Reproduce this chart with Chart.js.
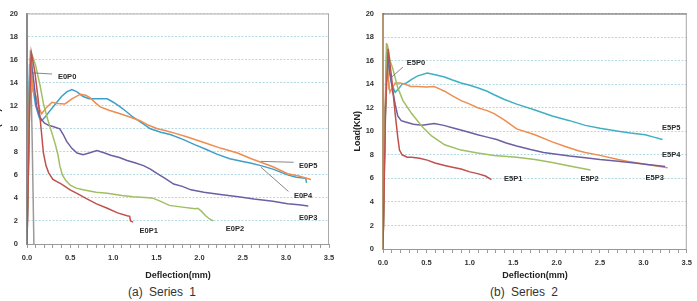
<!DOCTYPE html>
<html>
<head>
<meta charset="utf-8">
<script src="https://cdn.jsdelivr.net/npm/chart.js@4.4.1/dist/chart.umd.min.js"></script>
<style>
body { margin:0; width:697px; height:301px; overflow:hidden; background:#fff; position:relative; font-family:"Liberation Sans", Arial, sans-serif; }
.box { position:absolute; top:0; height:284px; }
.cap { position:absolute; top:285px; font-size:12px; color:#333; word-spacing:3px; transform:translateX(-50%); white-space:nowrap; }
</style>
</head>
<body>
<div class="box" style="left:-10px;width:350px"><canvas id="c1"></canvas></div>
<div class="box" style="left:345px;width:352px"><canvas id="c2"></canvas></div>
<div class="cap" style="left:162px">(a) Series 1</div>
<div class="cap" style="left:524px">(b) Series 2</div>
<script>
// Series 1 - deflection (mm) / load (kN)
const e0p0X = [0, 0.02, 0.04, 0.06, 0.08];
const e0p0Y = [0, 12, 16.8, 9, 0];
const e0p1X = [0, 0.03, 0.05, 0.09, 0.13, 0.17, 0.19, 0.22, 0.25, 0.3, 0.4, 0.5, 0.6, 0.7, 0.8, 0.93, 1.05, 1.16, 1.19, 1.2, 1.23];
const e0p1Y = [0, 12, 16.6, 15, 12.5, 9.5, 7.9, 6.8, 6.2, 5.6, 5.2, 4.7, 4.3, 3.9, 3.5, 3.1, 2.7, 2.45, 2.4, 2.0, 1.9];
const e0p2X = [0, 0.03, 0.06, 0.1, 0.15, 0.19, 0.24, 0.29, 0.33, 0.36, 0.38, 0.41, 0.45, 0.5, 0.57, 0.65, 0.8, 0.93, 1.1, 1.23, 1.45, 1.55, 1.65, 1.8, 1.95, 1.98, 2.02, 2.07, 2.12, 2.16];
const e0p2Y = [0, 12, 16.4, 15.5, 13.8, 12.2, 10.8, 9.6, 8.6, 7.7, 6.8, 6.0, 5.5, 5.1, 4.85, 4.7, 4.5, 4.4, 4.2, 4.1, 4.0, 3.7, 3.35, 3.2, 3.05, 3.1, 2.85, 2.45, 2.15, 2.0];
const e0p3X = [0, 0.03, 0.05, 0.08, 0.11, 0.15, 0.2, 0.25, 0.3, 0.38, 0.42, 0.46, 0.52, 0.58, 0.65, 0.72, 0.81, 0.9, 0.97, 1.07, 1.16, 1.25, 1.35, 1.43, 1.51, 1.6, 1.7, 1.8, 1.9, 2.05, 2.24, 2.45, 2.63, 2.85, 3.02, 3.15, 3.26];
const e0p3Y = [0, 12, 16.0, 14, 12, 11, 10.5, 10.3, 10.2, 10.0, 9.5, 8.9, 8.3, 7.9, 7.75, 7.9, 8.1, 7.9, 7.7, 7.5, 7.25, 7.05, 6.8, 6.5, 6.1, 5.7, 5.2, 5.0, 4.7, 4.5, 4.3, 4.1, 3.9, 3.7, 3.5, 3.4, 3.3];
const e0p4X = [0, 0.015, 0.03, 0.06, 0.1, 0.14, 0.17, 0.22, 0.28, 0.33, 0.4, 0.46, 0.52, 0.58, 0.65, 0.72, 0.81, 0.93, 1.0, 1.08, 1.15, 1.23, 1.33, 1.43, 1.55, 1.66, 1.8, 1.95, 2.08, 2.2, 2.35, 2.5, 2.6, 2.71, 2.85, 3.02, 3.12, 3.23, 3.24];
const e0p4Y = [0, 10, 15.6, 14, 12, 11, 10.7, 11.1, 11.7, 12.15, 12.8, 13.2, 13.4, 13.2, 12.8, 12.6, 12.6, 12.6, 12.3, 11.9, 11.5, 11.0, 10.5, 10.0, 9.7, 9.5, 9.1, 8.6, 8.2, 7.8, 7.4, 7.15, 7.0, 6.8, 6.5, 6.0, 5.8, 5.7, 5.3];
const e0p5X = [0, 0.02, 0.04, 0.07, 0.1, 0.14, 0.17, 0.22, 0.29, 0.35, 0.44, 0.52, 0.62, 0.68, 0.73, 0.8, 0.85, 0.95, 1.08, 1.2, 1.31, 1.41, 1.51, 1.6, 1.72, 1.85, 2.05, 2.25, 2.44, 2.6, 2.71, 2.85, 3.02, 3.15, 3.29];
const e0p5Y = [0, 11, 16.2, 13.2, 12.9, 11.8, 11.3, 11.8, 12.3, 12.2, 12.15, 12.6, 13.0, 12.9, 12.7, 12.2, 11.9, 11.6, 11.3, 11.0, 10.7, 10.3, 10.0, 9.85, 9.6, 9.3, 8.8, 8.3, 7.9, 7.4, 7.1, 6.7, 6.1, 5.9, 5.6];

// Series 2
const e5p0X = [0, 0.02, 0.04, 0.07];
const e5p0Y = [0, 10, 17.5, 13.5];
const e5p1X = [0, 0.03, 0.06, 0.1, 0.14, 0.17, 0.19, 0.22, 0.28, 0.33, 0.42, 0.51, 0.6, 0.71, 0.8, 0.9, 1.0, 1.09, 1.18, 1.25];
const e5p1Y = [0, 12, 17.0, 14.5, 11.5, 9.5, 8.4, 8.0, 7.8, 7.8, 7.7, 7.55, 7.3, 7.1, 6.95, 6.8, 6.55, 6.4, 6.2, 5.9];
const e5p2X = [0, 0.02, 0.05, 0.08, 0.11, 0.17, 0.23, 0.33, 0.45, 0.56, 0.71, 0.9, 1.09, 1.28, 1.54, 1.75, 1.95, 2.15, 2.39];
const e5p2Y = [0, 10, 17.4, 16.0, 15.4, 13.7, 12.6, 11.5, 10.4, 9.6, 8.85, 8.4, 8.15, 7.95, 7.8, 7.6, 7.35, 7.05, 6.7];
const e5p3X = [0, 0.02, 0.05, 0.08, 0.11, 0.14, 0.17, 0.21, 0.25, 0.35, 0.45, 0.59, 0.7, 0.82, 0.95, 1.09, 1.2, 1.31, 1.42, 1.54, 1.7, 1.85, 2.0, 2.15, 2.33, 2.5, 2.71, 2.9, 3.02, 3.15, 3.25];
const e5p3Y = [0, 10, 16.7, 15.0, 13.5, 12.3, 11.3, 10.9, 10.8, 10.6, 10.5, 10.65, 10.5, 10.25, 10.0, 9.7, 9.5, 9.3, 9.0, 8.75, 8.45, 8.2, 8.05, 7.9, 7.75, 7.6, 7.45, 7.3, 7.2, 7.1, 7.0];
const e5p4X = [0, 0.02, 0.04, 0.06, 0.08, 0.11, 0.14, 0.2, 0.25, 0.32, 0.4, 0.5, 0.59, 0.65, 0.71, 0.8, 0.9, 1.0, 1.09, 1.2, 1.28, 1.4, 1.54, 1.75, 1.95, 2.1, 2.25, 2.33, 2.5, 2.71, 2.85, 3.02, 3.15, 3.28];
const e5p4Y = [0, 9, 16.5, 14.5, 13.3, 13.7, 14.1, 14.1, 14.0, 13.8, 13.8, 13.75, 13.8, 13.6, 13.4, 13.0, 12.6, 12.3, 12.0, 11.75, 11.5, 10.95, 10.2, 9.7, 9.1, 8.7, 8.35, 8.2, 7.95, 7.6, 7.4, 7.2, 7.05, 6.9];
const e5p5X = [0, 0.02, 0.045, 0.07, 0.1, 0.14, 0.18, 0.22, 0.27, 0.33, 0.4, 0.51, 0.6, 0.71, 0.8, 0.9, 1.0, 1.09, 1.2, 1.28, 1.4, 1.54, 1.75, 1.95, 2.15, 2.33, 2.5, 2.71, 2.85, 3.02, 3.12, 3.22];
const e5p5Y = [0, 9, 16.7, 15.2, 14.0, 13.3, 13.6, 14.0, 14.1, 14.4, 14.7, 14.95, 14.8, 14.6, 14.35, 14.1, 13.9, 13.7, 13.4, 13.1, 12.7, 12.3, 11.8, 11.3, 10.9, 10.5, 10.25, 10.0, 9.85, 9.7, 9.5, 9.3];

// curve tags (data coords) and leader lines
const tags1 = [["E0P0", 0.465, 14.5], ["E0P5", 3.26, 6.75], ["E0P4", 3.2, 4.2], ["E0P3", 3.26, 2.28], ["E0P2", 2.41, 1.27], ["E0P1", 1.41, 1.1]];
const leaders1 = [[0.058, 14.85, 0.29, 14.75], [2.71, 7.17, 3.09, 7.09], [2.71, 6.67, 3.03, 4.56]];
const tags2 = [["E5P0", 0.38, 15.8], ["E5P5", 3.32, 10.25], ["E5P4", 3.32, 8.0], ["E5P3", 3.13, 6.0], ["E5P2", 2.38, 5.95], ["E5P1", 1.5, 5.95]];
const leaders2 = [[0.10, 14.6, 0.23, 15.45]];

const BLUE = "#3f9fc8", TEAL = "#3fb0c2", ORANGE = "#ee8d4f", PURPLE = "#6e5ea3", GREEN = "#a0be62", RED = "#c0504d", GRAY = "#9a9a9a", TAN = "#c9a06e";

function series(label, xs, ys, color) {
    return {
        label: label,
        data: xs.map((x, i) => ({ x: x, y: ys[i] })),
        borderColor: color,
        backgroundColor: color,
        borderWidth: 1.5,
        showLine: true,
        pointRadius: 0,
        tension: 0
    };
}

// text tags + leader lines + frame
function tagPlugin(tags, leaders, frameTop) {
    return {
        id: "tags",
        afterDatasetsDraw(chart) {
            const ctx = chart.ctx, xs = chart.scales.x, ys = chart.scales.y, a = chart.chartArea;
            ctx.save();
            ctx.strokeStyle = "#6a6a6a";
            ctx.lineWidth = 0.8;
            leaders.forEach(l => {
                ctx.beginPath();
                ctx.moveTo(xs.getPixelForValue(l[0]), ys.getPixelForValue(l[1]));
                ctx.lineTo(xs.getPixelForValue(l[2]), ys.getPixelForValue(l[3]));
                ctx.stroke();
            });
            ctx.fillStyle = "#2b2b2b";
            ctx.font = "bold 7.5px 'Liberation Sans', Arial, sans-serif";
            ctx.textAlign = "center";
            ctx.textBaseline = "middle";
            tags.forEach(t => ctx.fillText(t[0], xs.getPixelForValue(t[1]), ys.getPixelForValue(t[2])));
            // plot frame
            ctx.lineWidth = 1;
            ctx.strokeStyle = frameTop;
            ctx.beginPath();
            ctx.moveTo(a.left, a.top + 0.5);
            ctx.lineTo(a.right, a.top + 0.5);
            ctx.stroke();
            ctx.strokeStyle = "#a8a8a8";
            ctx.beginPath();
            ctx.moveTo(a.right - 0.5, a.top);
            ctx.lineTo(a.right - 0.5, a.bottom);
            ctx.stroke();
            ctx.restore();
        }
    };
}

function makeChart(id, sets, opts) {
    const tickFont = { family: "'Liberation Sans', Arial, sans-serif", size: 7.5, weight: "bold" };
    const titleFont = { family: "'Liberation Sans', Arial, sans-serif", size: 9, weight: "bold" };
    return new Chart(document.getElementById(id), {
        type: "scatter",
        data: { datasets: sets },
        options: {
            animation: false,
            responsive: true,
            maintainAspectRatio: false,
            layout: { padding: { top: 7, right: opts.padRight, left: 0, bottom: 0 } },
            plugins: { legend: { display: false }, tooltip: { enabled: false } },
            scales: {
                x: {
                    type: "linear",
                    min: 0, max: 3.5,
                    afterFit: s => { s.height = opts.xHeight; },
                    ticks: {
                        stepSize: 0.1,
                        autoSkip: false,
                        maxRotation: 0,
                        padding: 5,
                        color: "#333",
                        font: tickFont,
                        callback: v => (Math.round(v * 10) % 5 === 0 ? v.toFixed(1) : "")
                    },
                    grid: { drawOnChartArea: false, drawTicks: true, tickLength: 4, color: "#9a9a9a" },
                    border: { color: "#9a9a9a", width: 1 },
                    title: { display: true, text: "Deflection(mm)", color: "#222", font: titleFont, padding: { top: 0, bottom: 2.6 } }
                },
                y: {
                    min: 0, max: 20,
                    afterFit: s => { s.width = opts.yWidth; },
                    ticks: { stepSize: 2, padding: 9, color: "#333", font: tickFont },
                    grid: { drawTicks: false, color: "#b4dbe4", lineWidth: 1 },
                    border: { color: opts.axisColor, width: 2, dash: [2, 1.5] },
                    title: { display: true, text: "Load(KN)", color: "#222", font: titleFont, padding: { top: opts.yTitlePad, bottom: 0 } }
                }
            }
        },
        plugins: [tagPlugin(opts.tags, opts.leaders, opts.frameTop)]
    });
}

makeChart("c1", [
    series("E0P1", e0p1X, e0p1Y, RED),
    series("E0P2", e0p2X, e0p2Y, GREEN),
    series("E0P3", e0p3X, e0p3Y, PURPLE),
    series("E0P5", e0p5X, e0p5Y, ORANGE),
    series("E0P4", e0p4X, e0p4Y, BLUE),
    series("E0P0", e0p0X, e0p0Y, GRAY)
], { padRight: 11, xHeight: 40, yWidth: 37, yTitlePad: 2.6, axisColor: "#8a8a8a", frameTop: "#b0b0b0", tags: tags1, leaders: leaders1 });

makeChart("c2", [
    series("E5P1", e5p1X, e5p1Y, RED),
    series("E5P2", e5p2X, e5p2Y, GREEN),
    series("E5P3", e5p3X, e5p3Y, PURPLE),
    series("E5P4", e5p4X, e5p4Y, ORANGE),
    series("E5P5", e5p5X, e5p5Y, TEAL),
    series("E5P0", e5p0X, e5p0Y, TAN)
], { padRight: 7, xHeight: 35, yWidth: 38, yTitlePad: 7.6, axisColor: "#b39572", frameTop: "#5a5a5a", tags: tags2, leaders: leaders2 });
</script>
</body>
</html>
